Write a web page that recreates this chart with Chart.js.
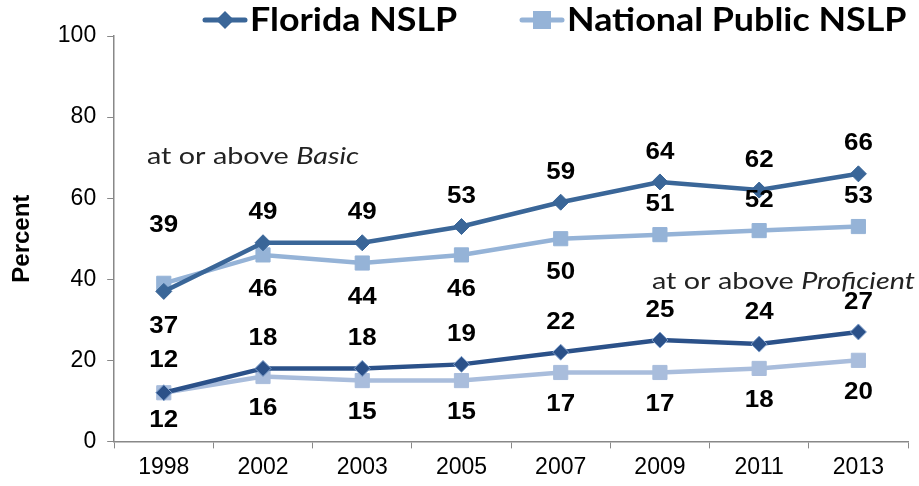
<!DOCTYPE html>
<html>
<head>
<meta charset="utf-8">
<script src="https://cdn.jsdelivr.net/npm/chart.js@4.4.1/dist/chart.umd.min.js"></script>
<style>
  html, body { margin: 0; padding: 0; background: #fff; }
  #wrap { width: 919px; height: 486px; position: relative; }
</style>
</head>
<body>
<div id="wrap"><canvas id="c" width="919" height="486"></canvas></div>
<script>
// years on the x axis
var years = ["1998", "2002", "2003", "2005", "2007", "2009", "2011", "2013"];

// at or above Basic
var floridaBasic  = [37, 49, 49, 53, 59, 64, 62, 66];
var nationalBasic = [39, 46, 44, 46, 50, 51, 52, 53];

// at or above Proficient
var floridaProf   = [12, 18, 18, 19, 22, 25, 24, 27];
var nationalProf  = [12, 16, 15, 15, 17, 17, 18, 20];

var yTicks = [0, 20, 40, 60, 80, 100];

var DARK = "#3A6698";
var DARK2 = "#2B5189";
var LIGHT = "#95B3D7";
var LIGHT2 = "#A9BDDC";

// label offsets (px, negative = above the point)
var fbOff = [35, -30, -30, -30, -30, -30, -30, -30];
var nbOff = [-58, 34, 34, 34, 34, -30, -30, -30];
var fpOff = [-32, -30, -30, -30, -30, -30, -32, -30];
var npOff = [28, 32, 32, 32, 32, 32, 32, 32];

function ds(label, data, color, style, radius, offs, pbColor) {
    return {
        label: label,
        data: data,
        borderColor: color,
        backgroundColor: color,
        pointBackgroundColor: color,
        pointBorderColor: pbColor || color,
        pointBorderWidth: 1,
        pointStyle: style,
        pointRadius: radius,
        pointHoverRadius: radius,
        borderWidth: 4.5,
        tension: 0,
        labelOffsets: offs
    };
}

var SANS = "'Liberation Sans', Arial, sans-serif";
var CAL = "Lato, 'Open Sans', sans-serif";

// text drawn a little wider, the reference is stretched sideways
function wideText(ctx, txt, x, y, sx) {
    ctx.save();
    ctx.translate(x, y);
    ctx.scale(sx, 1);
    ctx.fillText(txt, 0, 0);
    ctx.restore();
}

var dataLabels = {
    id: "dataLabels",
    afterDatasetsDraw: function(chart) {
        var ctx = chart.ctx;
        ctx.save();
        ctx.font = "bold 24px " + SANS;
        ctx.fillStyle = "#000";
        ctx.textAlign = "center";
        ctx.textBaseline = "middle";
        chart.data.datasets.forEach(function(d, i) {
            var meta = chart.getDatasetMeta(i);
            meta.data.forEach(function(pt, j) {
                wideText(ctx, String(d.data[j]), pt.x, pt.y + d.labelOffsets[j], 1.08);
            });
        });
        // annotations
        var SX = 1.25;
        function mixed(x, y, plain, ital, rightAlign) {
            ctx.font = "23px " + CAL;
            var w1 = ctx.measureText(plain).width * SX;
            ctx.font = "italic 23px " + CAL;
            var w2 = ctx.measureText(ital).width * SX;
            var x0 = rightAlign ? x - w1 - w2 : x;
            ctx.font = "23px " + CAL;
            wideText(ctx, plain, x0, y, SX);
            ctx.font = "italic 23px " + CAL;
            wideText(ctx, ital, x0 + w1, y, SX);
        }
        ctx.fillStyle = "#222";
        ctx.textAlign = "left";
        ctx.textBaseline = "alphabetic";
        mixed(147, 164, "at or above ", "Basic", false);
        mixed(915, 289, "at or above ", "Proficient", true);

        // legend
        var items = [
            { x: 205, text: "Florida NSLP", color: DARK, style: "diamond" },
            { x: 522, text: "National Public NSLP", color: LIGHT, style: "square" }
        ];
        items.forEach(function(it) {
            var y = 20;
            ctx.strokeStyle = it.color;
            ctx.lineWidth = 5;
            ctx.lineCap = "round";
            ctx.beginPath();
            ctx.moveTo(it.x, y);
            ctx.lineTo(it.x + 40, y);
            ctx.stroke();
            ctx.fillStyle = it.color;
            var cx = it.x + 20;
            if (it.style === "diamond") {
                ctx.beginPath();
                ctx.moveTo(cx, y - 9);
                ctx.lineTo(cx + 9, y);
                ctx.lineTo(cx, y + 9);
                ctx.lineTo(cx - 9, y);
                ctx.closePath();
                ctx.fill();
            } else {
                ctx.fillRect(cx - 9, y - 9, 18, 18);
            }
            ctx.fillStyle = "#000";
            ctx.font = "bold 32px " + CAL;
            ctx.textBaseline = "middle";
            wideText(ctx, it.text, it.x + 45, y + 1, 1.12);
        });
        ctx.restore();
    }
};

var chart = new Chart(document.getElementById("c"), {
    type: "line",
    data: {
        labels: years,
        datasets: [
            ds("Florida NSLP", floridaBasic, DARK, "rectRot", 8, fbOff),
            ds("National Public NSLP", nationalBasic, LIGHT, "rect", 10, nbOff),
            ds("Florida NSLP proficient", floridaProf, DARK2, "rectRot", 8, fpOff, "#7F9FCB"),
            ds("National Public NSLP proficient", nationalProf, LIGHT2, "rect", 10, npOff)
        ]
    },
    options: {
        responsive: false,
        animation: false,
        layout: { padding: { top: 36, right: 0, left: 0, bottom: 0 } },
        plugins: {
            legend: { display: false },
            tooltip: { enabled: false }
        },
        scales: {
            x: {
                offset: true,
                grid: { display: true, offset: true, drawOnChartArea: false, drawTicks: true, tickLength: 7, color: "#888" },
                border: { color: "#888", width: 1.5 },
                ticks: { color: "#000", font: { size: 23, family: SANS }, padding: 5 }
            },
            y: {
                min: 0,
                max: 100,
                afterBuildTicks: function(axis) {
                    axis.ticks = yTicks.map(function(v) { return { value: v }; });
                },
                grid: { display: true, drawOnChartArea: false, drawTicks: true, tickLength: 7, color: "#888" },
                border: { color: "#888", width: 1.5 },
                ticks: { color: "#000", font: { size: 23, family: SANS }, padding: 11 },
                title: {
                    display: true,
                    text: "Percent",
                    color: "#000",
                    font: { size: 24, weight: "bold", family: SANS },
                    padding: { top: 8, bottom: 10 }
                }
            }
        }
    },
    plugins: [dataLabels]
});
</script>
</body>
</html>
